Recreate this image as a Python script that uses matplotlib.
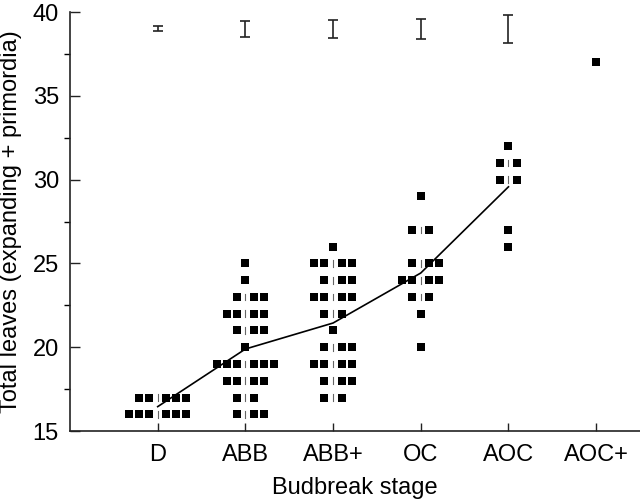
import numpy as np
import matplotlib
matplotlib.use("Agg")
import matplotlib.pyplot as plt
from matplotlib.ticker import MultipleLocator

plt.rcParams['font.family'] = ['Liberation Sans', 'DejaVu Sans']

stages = ['D', 'ABB', 'ABB+', 'OC', 'AOC', 'AOC+']

# total leaves per shoot, one entry per bud
d_leaves = [17] * 5 + [16] * 6
abb_leaves = [25, 24] + [23] * 3 + [22] * 4 + [21] * 3 + [20] + [19] * 6 + [18] * 4 + [17] * 2 + [16] * 3
abbp_leaves = [26] + [25] * 4 + [24] * 3 + [23] * 4 + [22] * 2 + [21] + [20] * 3 + [19] * 4 + [18] * 3 + [17] * 2
oc_leaves = [29] + [27] * 2 + [25] * 3 + [24] * 4 + [23] * 2 + [22] + [20]
aoc_leaves = [32] + [31] * 2 + [30] * 2 + [27] + [26]
aocp_leaves = [37]

groups = [d_leaves, abb_leaves, abbp_leaves, oc_leaves, aoc_leaves, aocp_leaves]
err_y = 39  # where the SE bars sit

fig = plt.figure(figsize=(6.4, 5.03), dpi=100)
ax = fig.add_axes([0.1094, 0.1431, 0.8906, 0.8330])

pitch = 0.114   # spacing between squares in a row (x units)
inner = 0.099   # offset of the first square from the centre

for i, vals in enumerate(groups):
    xc = i + 1
    vals = np.array(vals)
    for v in np.unique(vals):
        n = int((vals == v).sum())
        if n == 1:
            xs = [xc]
        else:
            nl = n // 2
            nr = n - nl
            xs = [xc - inner - pitch * k for k in range(nl)] + \
                 [xc + inner + pitch * k for k in range(nr)]
            ax.plot([xc, xc], [v - 0.2, v + 0.2], color='#666666', lw=0.8, zorder=2)
        ax.scatter(xs, [v] * n, marker='s', s=27, color='black', linewidths=0, zorder=3)

# means joined by a line (stages with more than one bud)
mx = [i + 1 for i, g in enumerate(groups) if len(g) > 1]
my = [np.mean(g) for g in groups if len(g) > 1]
ax.plot(mx, my, color='black', lw=1.2, zorder=2)

# standard errors drawn along the top
se = [np.std(g, ddof=1) / np.sqrt(len(g)) for g in groups if len(g) > 1]
ax.errorbar(mx, [err_y] * len(mx), yerr=se, fmt='none', ecolor='#222222',
            elinewidth=1.2, capsize=3.8, capthick=1.2)

ax.set_xlim(0, 6.5)
ax.set_ylim(15, 40)
ax.set_xticks(range(1, 7))
ax.set_xticklabels(stages)
ax.yaxis.set_major_locator(MultipleLocator(5))
ax.yaxis.set_minor_locator(MultipleLocator(2.5))
ax.tick_params(axis='both', direction='in', labelsize=17, width=1, color='#222222')
ax.tick_params(axis='x', length=6, pad=9)
ax.tick_params(axis='y', which='major', length=7, pad=8)
ax.tick_params(axis='y', which='minor', length=4, width=1)
ax.spines['top'].set_visible(False)
ax.spines['right'].set_visible(False)
for s in ['left', 'bottom']:
    ax.spines[s].set_linewidth(1.2)
    ax.spines[s].set_color('#222222')

ax.set_xlabel('Budbreak stage', fontsize=17, labelpad=8)
ax.set_ylabel('Total leaves (expanding + primordia)', fontsize=17, labelpad=8)

fig.savefig('out.png', dpi=100)
